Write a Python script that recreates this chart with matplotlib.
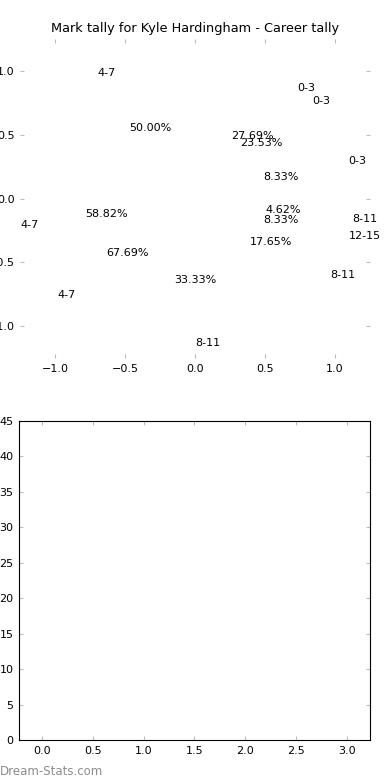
import matplotlib
matplotlib.use('Agg')
import matplotlib.pyplot as plt

title = 'Mark tally for Kyle Hardingham - Career tally'

# three tallies drawn as overlapping (invisible) pies
labels_a = ['0-3', '4-7', '8-11', '12-15']
counts_a = [1, 6, 4, 1]
labels_b = ['0-3', '4-7', '8-11']
counts_b = [18, 44, 3]
labels_c = ['0-3', '4-7', '8-11']
counts_c = [4, 10, 3]

bar_x = [0, 1, 2, 3]
bar_h = [0, 0, 0, 0]

fig = plt.figure(figsize=(3.9, 7.8), dpi=100)

ax1 = fig.add_axes([0.0513, 0.541, 0.897, 0.409])
for lab, cnt in [(labels_a, counts_a), (labels_b, counts_b), (labels_c, counts_c)]:
    wedges, texts, autotexts = ax1.pie(
        cnt, labels=lab, autopct='%1.2f%%', radius=1.0,
        labeldistance=1.135, pctdistance=0.64, startangle=0,
        wedgeprops=dict(fill=False, linewidth=0),
        textprops=dict(fontsize=8))
    for t in texts:
        if t.get_ha() == 'center':
            t.set_ha('left')
ax1.set_frame_on(False)
ax1.set_aspect('auto')
ax1.set_xlim(-1.25, 1.25)
ax1.set_ylim(-1.25, 1.25)
ax1.set_xticks([-1.0, -0.5, 0.0, 0.5, 1.0])
ax1.set_yticks([-1.0, -0.5, 0.0, 0.5, 1.0])
ax1.tick_params(direction='in', length=3, color='#bbbbbb', labelsize=8,
                top=True, right=True, pad=4)
ax1.set_title(title, fontsize=9.3, pad=5)

ax2 = fig.add_axes([0.0487, 0.0513, 0.9, 0.409])
ax2.bar(bar_x, bar_h, width=0.45, color='#4c72b0')
ax2.set_xlim(-0.225, 3.225)
ax2.set_ylim(0, 45)
ax2.set_yticks(range(0, 46, 5))
ax2.set_xticks([0.0, 0.5, 1.0, 1.5, 2.0, 2.5, 3.0])
ax2.set_xticklabels(['0.0', '0.5', '1.0', '1.5', '2.0', '2.5', '3.0'])
ax2.tick_params(direction='in', length=3, color='#bbbbbb', labelsize=8,
                top=True, right=True, pad=4)

fig.text(0.0, 0.006, 'Dream-Stats.com', fontsize=8.5, color='#8c8c8c')

fig.savefig('out.png', dpi=100)
